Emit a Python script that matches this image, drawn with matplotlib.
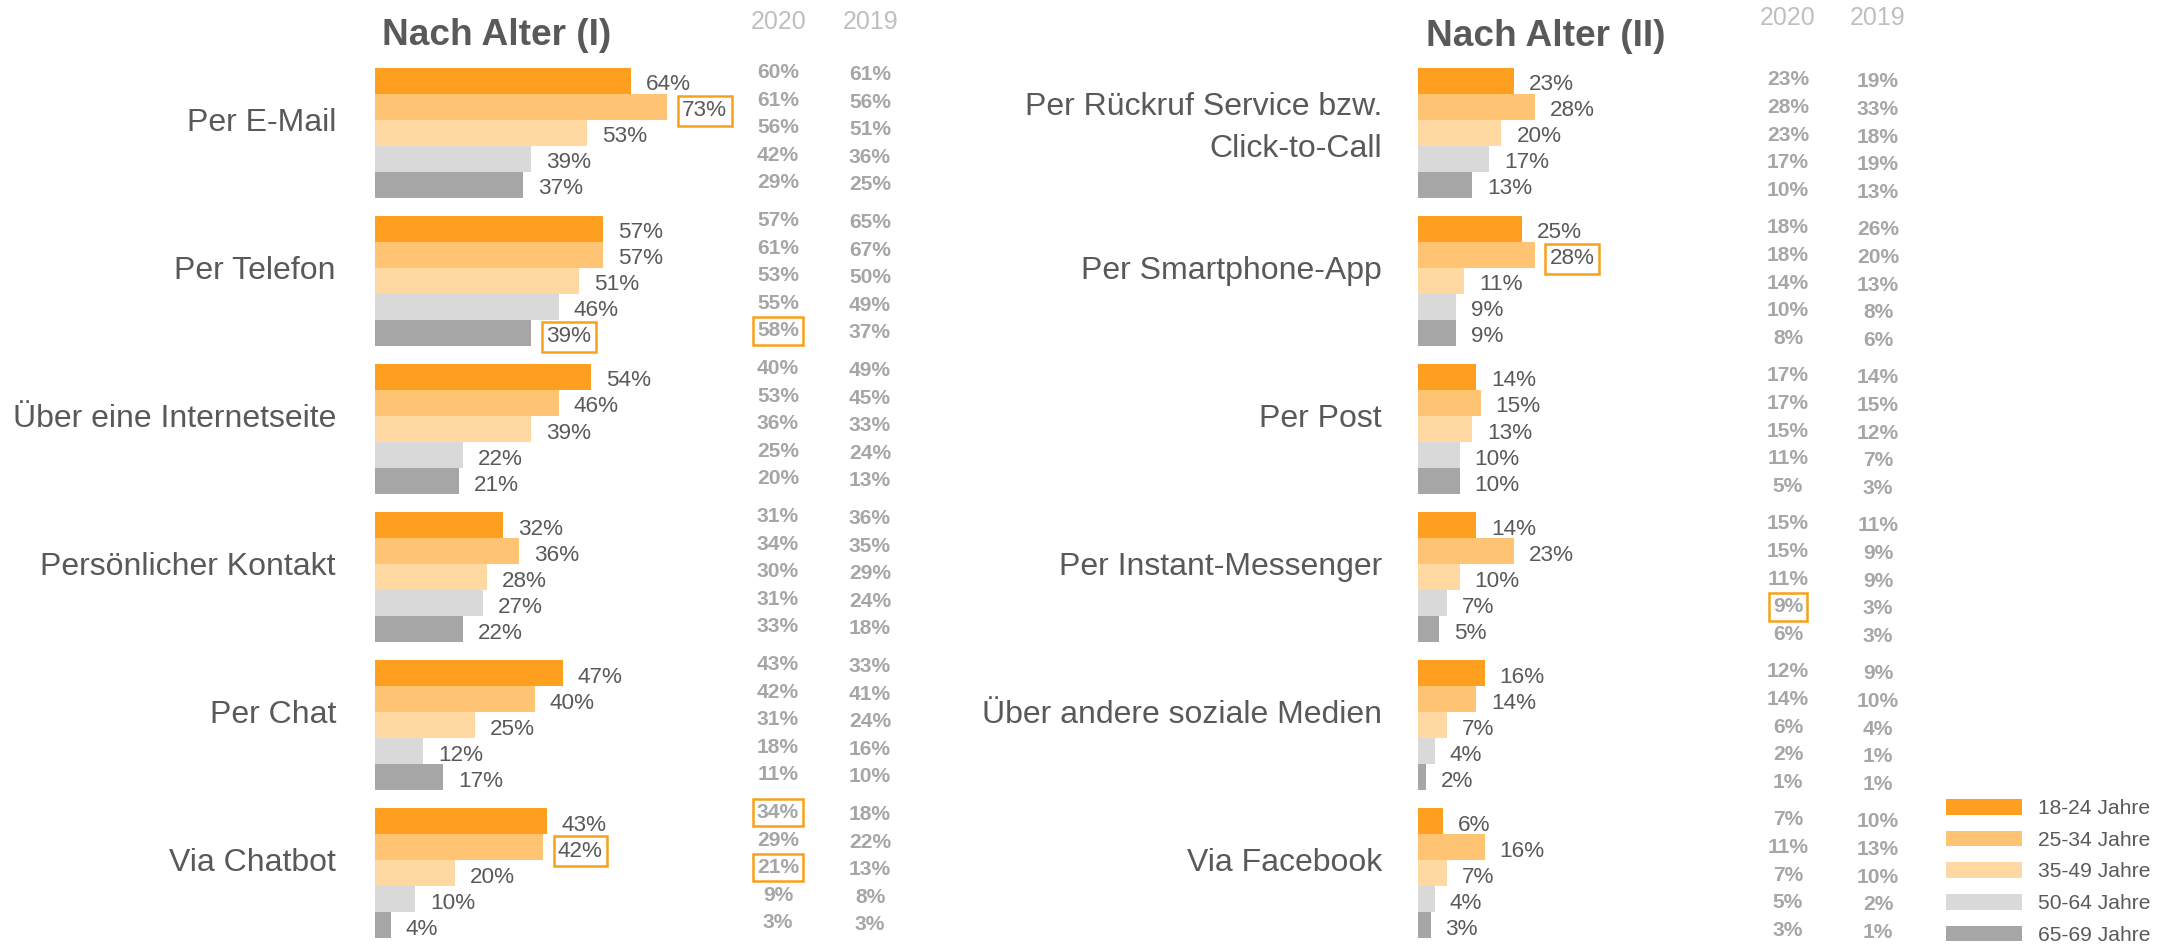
import matplotlib
matplotlib.use('Agg')
import matplotlib.pyplot as plt
from matplotlib.transforms import blended_transform_factory

plt.rcParams['font.family'] = ['Liberation Sans', 'DejaVu Sans']

# age groups and colours
ages = ['18-24 Jahre', '25-34 Jahre', '35-49 Jahre', '50-64 Jahre', '65-69 Jahre']
colors = ['#FF9F1F', '#FFC374', '#FFD8A2', '#D9D9D9', '#A6A6A6']

# panel I
cats_1 = ['Per E-Mail', 'Per Telefon', 'Über eine Internetseite',
          'Persönlicher Kontakt', 'Per Chat', 'Via Chatbot']
vals_1 = [[64, 73, 53, 39, 37],
          [57, 57, 51, 46, 39],
          [54, 46, 39, 22, 21],
          [32, 36, 28, 27, 22],
          [47, 40, 25, 12, 17],
          [43, 42, 20, 10, 4]]
y2020_1 = [[60, 61, 56, 42, 29],
           [57, 61, 53, 55, 58],
           [40, 53, 36, 25, 20],
           [31, 34, 30, 31, 33],
           [43, 42, 31, 18, 11],
           [34, 29, 21, 9, 3]]
y2019_1 = [[61, 56, 51, 36, 25],
           [65, 67, 50, 49, 37],
           [49, 45, 33, 24, 13],
           [36, 35, 29, 24, 18],
           [33, 41, 24, 16, 10],
           [18, 22, 13, 8, 3]]
hl_bar_1 = [(0, 1), (1, 4), (5, 1)]      # (group, age) boxed value labels
hl_col_1 = [(1, 4), (5, 0), (5, 2)]      # boxed 2020 values

# panel II
cats_2 = ['Per Rückruf Service bzw.\nClick-to-Call', 'Per Smartphone-App', 'Per Post',
          'Per Instant-Messenger', 'Über andere soziale Medien', 'Via Facebook']
vals_2 = [[23, 28, 20, 17, 13],
          [25, 28, 11, 9, 9],
          [14, 15, 13, 10, 10],
          [14, 23, 10, 7, 5],
          [16, 14, 7, 4, 2],
          [6, 16, 7, 4, 3]]
y2020_2 = [[23, 28, 23, 17, 10],
           [18, 18, 14, 10, 8],
           [17, 17, 15, 11, 5],
           [15, 15, 11, 9, 6],
           [12, 14, 6, 2, 1],
           [7, 11, 7, 5, 3]]
y2019_2 = [[19, 33, 18, 19, 13],
           [26, 20, 13, 8, 6],
           [14, 15, 12, 7, 3],
           [11, 9, 9, 3, 3],
           [9, 10, 4, 1, 1],
           [10, 13, 10, 2, 1]]
hl_bar_2 = [(1, 1)]
hl_col_2 = [(3, 3)]

W, H, DPI = 2180, 944, 100
BAR = 26.0      # px per bar
PITCH = 148.0   # px per group
TOP, BOTTOM = 68.0, 938.0
TXT = '#595959'
COL = '#A6A6A6'
HEAD = '#BFBFBF'
BOX = '#F7A11A'


def pt(p):
    return p * 72.0 / DPI


fig = plt.figure(figsize=(W / DPI, H / DPI), dpi=DPI)


def panel(x0, x1, scale, cats, vals, v20, v19, label_x, col_x, col_off, col_step,
          hl_bar, hl_col):
    ax = fig.add_axes([x0 / W, 1 - BOTTOM / H, (x1 - x0) / W, (BOTTOM - TOP) / H])
    ax.set_xlim(0, (x1 - x0) / scale)
    ax.set_ylim((BOTTOM - TOP) / BAR, 0)
    ax.axis('off')
    pitch = PITCH / BAR
    tr = blended_transform_factory(fig.transFigure, ax.transData)
    boxkw = dict(boxstyle='square,pad=0.2', fc='none', ec=BOX, lw=1.8)

    for i, age in enumerate(ages):
        ys = [g * pitch + i + 0.5 for g in range(len(cats))]
        xs = [v[i] for v in vals]
        ax.barh(ys, xs, height=1.0, color=colors[i], label=age)
        for g in range(len(cats)):
            ax.annotate(f'{xs[g]}%', (xs[g], ys[g] + 9.5 / BAR),
                        xytext=(pt(15), 0), textcoords='offset points',
                        va='baseline', ha='left', fontsize=pt(22.5), color=TXT,
                        bbox=boxkw if (g, i) in hl_bar else None)

    for g, cat in enumerate(cats):
        lines = cat.split('\n')
        n = len(lines)
        for k, line in enumerate(lines):
            base = 63 + (k - (n - 1) / 2) * 42 + (n - 1) * 5
            ax.text(label_x / W, g * pitch + base / BAR, line, transform=tr,
                    ha='right', va='baseline', fontsize=pt(32), color=TXT)
        for i in range(len(ages)):
            y = g * pitch + (col_off + col_step * i + 7) / BAR
            ax.text(col_x[0] / W, y, f'{v20[g][i]}%', transform=tr, ha='center',
                    va='baseline', fontsize=pt(21), weight='bold', color=COL,
                    bbox=boxkw if (g, i) in hl_col else None)
            ax.text(col_x[1] / W, y + 2 / BAR, f'{v19[g][i]}%', transform=tr,
                    ha='center', va='baseline', fontsize=pt(21), weight='bold',
                    color=COL)
    return ax


ax1 = panel(375, 900, 4.0, cats_1, vals_1, y2020_1, y2019_1, 336, (778, 870), 3, 27.6,
            hl_bar_1, hl_col_1)
ax2 = panel(1418, 1900, 4.17, cats_2, vals_2, y2020_2, y2019_2, 1382, (1788, 1878), 10, 27.8,
            hl_bar_2, hl_col_2)

fig.text(382 / W, 1 - 45 / H, 'Nach Alter (I)', ha='left', va='baseline',
         fontsize=pt(37), weight='bold', color=TXT)
fig.text(1426 / W, 1 - 46 / H, 'Nach Alter (II)', ha='left', va='baseline',
         fontsize=pt(37), weight='bold', color=TXT)
for x, y, s in [(779, 29, '2020'), (871, 29, '2019'), (1788, 25, '2020'), (1878, 25, '2019')]:
    fig.text(x / W, 1 - y / H, s, ha='center', va='baseline', fontsize=pt(25), color=HEAD)

handles, labels = ax1.get_legend_handles_labels()
fig.legend(handles, labels, loc='upper left', bbox_to_anchor=(1946 / W, 1 - 799 / H),
           frameon=False, fontsize=pt(21), handlelength=3.62, handleheight=0.76,
           handletextpad=0.76, labelspacing=0.6, borderpad=0, borderaxespad=0,
           labelcolor=TXT)

fig.savefig('out.png', dpi=DPI)
